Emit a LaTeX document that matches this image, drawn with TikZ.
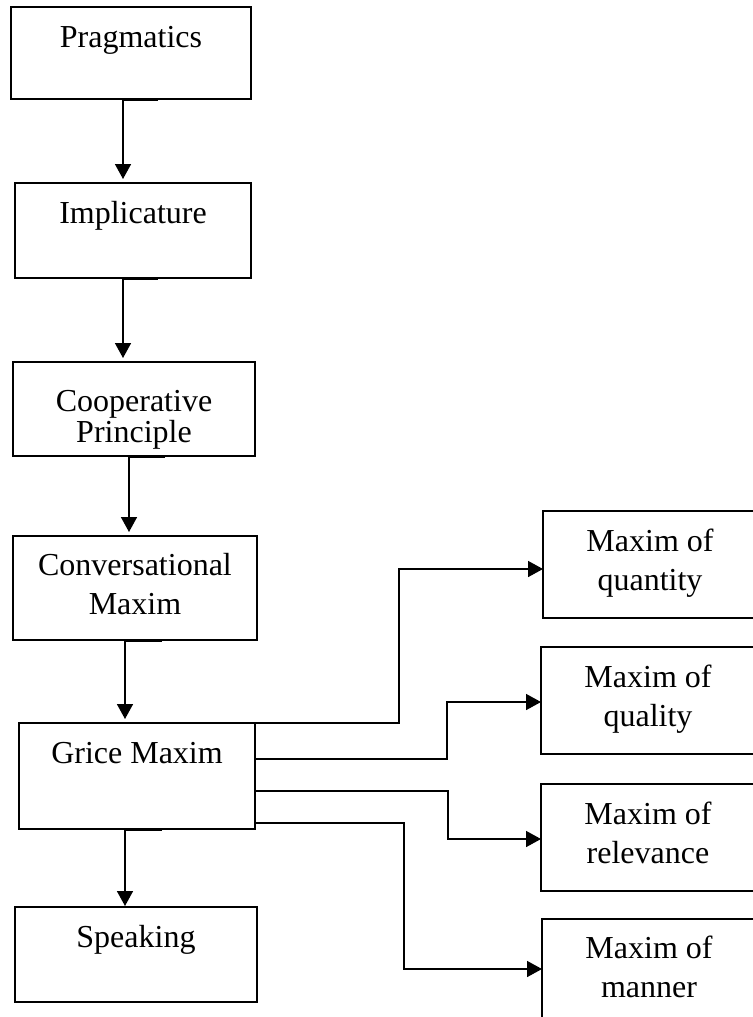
\documentclass[tikz,border=0pt]{standalone}
\usepackage{fontspec}
\setmainfont{Liberation Serif}
\usetikzlibrary{arrows.meta}
\begin{document}
\begin{tikzpicture}[x=0.5pt,y=-0.5pt,
  box/.style={draw, line width=0.8pt, anchor=north west, inner sep=0pt, outer sep=0pt},
  lbl/.style={font=\fontsize{16}{19.5}\selectfont, align=center, inner sep=0pt, anchor=north, yshift=-6.35pt},
  arr/.style={line width=0.8pt, -{Triangle[length=7.5pt,width=8pt]}},
  down/.style={arr, shorten >=2pt}]
\useasboundingbox (0,0) rectangle (753,1017);
\fill[white] (0,0) rectangle (753,1017);
\clip (0,0) rectangle (753,1017);

% left column boxes
\node[box, minimum width=120pt, minimum height=46pt]   (prag)  at (11,7)   {};
\node[box, minimum width=118pt, minimum height=47.5pt] (impl)  at (15,183) {};
\node[box, minimum width=121pt, minimum height=47pt]   (coop)  at (13,362) {};
\node[box, minimum width=122pt, minimum height=52pt]   (conv)  at (13,536) {};
\node[box, minimum width=118pt, minimum height=53pt]   (grice) at (19,723) {};
\node[box, minimum width=121pt, minimum height=47.5pt] (speak) at (15,907) {};

% right column boxes
\node[box, minimum width=107pt, minimum height=53.5pt] (quan) at (543,511) {};
\node[box, minimum width=107pt, minimum height=53.5pt] (qual) at (541,647) {};
\node[box, minimum width=107pt, minimum height=53.5pt] (rel)  at (541,784) {};
\node[box, minimum width=107pt, minimum height=50pt]   (man)  at (542,919) {};

% labels
\node[lbl] (pragT)  at (prag.north)  {\strut Pragmatics};
\node[lbl] (implT)  at (impl.north)  {\strut Implicature};
\node[lbl, yshift=-4.5pt] (coopT) at (coop.north) {\strut Cooperative\\[-4pt]\strut Principle};
\node[lbl, yshift=0.5pt] (convT)  at (conv.north)  {\strut Conversational\\\strut Maxim};
\node[lbl] (griceT) at (grice.north) {\strut Grice Maxim};
\node[lbl] (speakT) at (speak.north) {\strut Speaking};
\node[lbl] (quanT)  at (quan.north)  {\strut Maxim of\\\strut quantity};
\node[lbl] (qualT)  at (qual.north)  {\strut Maxim of\\\strut quality};
\node[lbl] (relT)   at (rel.north)   {\strut Maxim of\\\strut relevance};
\node[lbl, yshift=0.5pt] (manT) at (man.north) {\strut Maxim of\\\strut manner};

% vertical connectors with stubs
\coordinate (s1) at ([shift={(27,1)}]prag.south);
\coordinate (a1) at ([shift={(-8,1)}]prag.south);
\draw[down] (s1) -- (a1) -- (a1 |- impl.north);

\coordinate (s2) at ([shift={(25,1)}]impl.south);
\coordinate (a2) at ([shift={(-10,1)}]impl.south);
\draw[down] (s2) -- (a2) -- (a2 |- coop.north);

\coordinate (s3) at ([shift={(31,1)}]coop.south);
\coordinate (a3) at ([shift={(-5,1)}]coop.south);
\draw[down] (s3) -- (a3) -- (a3 |- conv.north);

\coordinate (s4) at ([shift={(27,1)}]conv.south);
\coordinate (a4) at ([shift={(-10,1)}]conv.south);
\draw[down] (s4) -- (a4) -- (a4 |- grice.north);

\coordinate (s5) at ([shift={(25,1)}]grice.south);
\coordinate (a5) at ([shift={(-12,1)}]grice.south);
\draw[arr, shorten >=0.5pt] (s5) -- (a5) -- (a5 |- speak.north);

% right connectors
\coordinate (t1) at ([shift={(0,4.5)}]quan.west);
\coordinate (t2) at ([shift={(0,1.5)}]qual.west);
\coordinate (t3) at ([shift={(0,1.5)}]rel.west);
\coordinate (g2) at ([shift={(0,-17)}]grice.east);
\coordinate (g3) at ([shift={(0,15)}]grice.east);
\coordinate (g4) at ([shift={(0,47)}]grice.east);

\draw[arr] (grice.north east) -- ++(144,0) |- (t1);
\draw[arr] (g2) -- ++(192,0) |- (t2);
\draw[arr] (g3) -- ++(193,0) |- (t3);
\draw[arr] (g4) -- ++(149,0) |- (man.west);
\end{tikzpicture}
\end{document}
